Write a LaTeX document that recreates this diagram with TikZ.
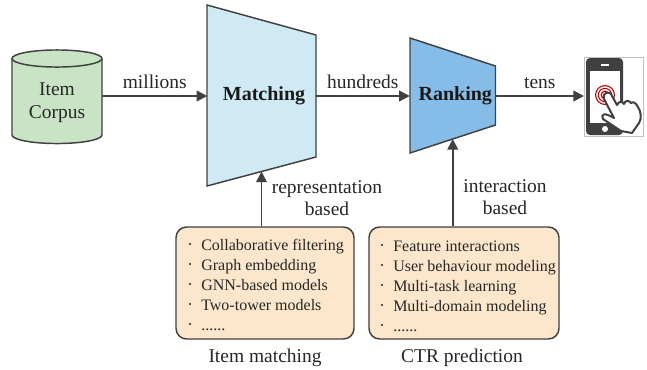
\documentclass[tikz,border=0pt]{standalone}
\usepackage{fontspec}
\setmainfont{Liberation Serif}
\usetikzlibrary{positioning,arrows.meta}
\definecolor{skyface}{HTML}{CFE9F5}
\definecolor{rankface}{HTML}{85BDE8}
\definecolor{corpusface}{HTML}{C9E4C5}
\definecolor{boxface}{HTML}{FCE6CC}
\definecolor{inkgray}{HTML}{404040}
\tikzset{>={Triangle[length=8pt,width=8pt]}}
\tikzset{
  flow/.style = {draw=inkgray, line width=1.4pt, ->},
  flowtext/.style = {font=\fontsize{14.6}{16.8}\selectfont, align=center, inner sep=0pt, text=black!85},
  stagetext/.style = {font=\fontsize{15}{17}\selectfont\bfseries, inner sep=0pt, minimum height=20pt, text=black!90},
  listbox/.style = {draw=inkgray, line width=1.1pt, fill=boxface, rounded corners=8pt, inner sep=0pt},
  listline/.style = {font=\fontsize{12}{14}\selectfont, anchor=base west, inner sep=0pt, text=black!85},
  rim/.style = {x radius=33.75pt, y radius=6.4pt}
}
\newcommand{\moredots}{......}
% name, left x, right x, top left y, top right y, bottom right y, bottom left y, fill
\newcommand{\funnel}[8]{%
  \draw[draw=inkgray, line width=1.1pt, fill=#8] (#2,#4) -- (#3,#5) -- (#3,#6)
    -- coordinate[pos=.5] (#1 low) (#2,#7) -- cycle;%
}
\newcommand{\listrows}[3]{%
  \foreach \entry [count=\n from 0] in {#3} {
    \fill[black!85] (#1-11,#2+\n*20-1) circle (1.1);
    \node[listline] at (#1,#2+\n*20+5) {\entry};
  }%
}
\begin{document}
\begin{tikzpicture}[x=0.75pt, y=-0.75pt]
  \useasboundingbox (0,0) rectangle (647,369);
  % corpus
  \draw[draw=inkgray, line width=1.1pt, fill=corpusface] (12,58.5) -- (12,135)
    arc[start angle=180, end angle=360, rim] -- (102,58.5)
    arc[start angle=0, end angle=180, rim] -- cycle;
  \draw[draw=inkgray, line width=1.1pt] (12,58.5) arc[start angle=180, end angle=360, rim];
  \node[flowtext, font=\fontsize{14.6}{17.2}\selectfont, minimum width=67.5pt] (corpus) at (57,103) {Item\\Corpus};
  % funnels
  \funnel{matching}{207}{316}{5}{35}{157}{186}{skyface}
  \node[stagetext, minimum width=81pt] (matching) at (261.5,96) {\hspace{3.8pt}Matching};
  \funnel{ranking}{410}{495.5}{38}{66}{125}{153}{rankface}
  \node[stagetext, minimum width=64pt] (ranking) at (452.75,96) {\hspace{3.8pt}Ranking};
  % phone
  \coordinate (phone) at (584,96);
  \begin{scope}[shift={(584,57)}]
    \draw[draw=black!25, line width=.5pt, fill=white] (0,0) rectangle (59,79);
    \fill[inkgray, rounded corners=3pt] (2,1) rectangle (39,78);
    \fill[white] (6,14) rectangle (36,66);
    \fill[white] (21,72) circle (3);
    \fill[white] (17,7) rectangle (25,8.5);
    \fill[inkgray] (8,7.7) circle (1);
    \foreach \r/\c in {10/red!75!black, 8.8/white, 7.2/red!75!black, 6/white, 4.4/red!75!black, 3/white}
      \fill[\c] (21,38) circle (\r);
    \draw[inkgray, line width=1.5pt, fill=white, line join=round]
      (22,36) .. controls (25,35) and (27,36) .. (28,39) -- (33,48)
      .. controls (35,44) and (38,44) .. (40,47)
      .. controls (41,43) and (45,43) .. (47,46)
      .. controls (49,44) and (52,46) .. (54,50)
      .. controls (57,55) and (58,61) .. (55,66) -- (48,76) -- (37,74)
      -- (19,62) .. controls (17,58) and (20,56) .. (24,58) -- (30,61) -- (20,42)
      .. controls (19,39) and (20,37) .. (22,36) -- cycle;
  \end{scope}
  % lists
  \node[listbox, minimum width=133.5pt, minimum height=84pt] (item box) at (265,283) {};
  \listrows{201}{245}{Collaborative filtering,Graph embedding,GNN-based models,Two-tower models,\moredots}
  \node[listbox, minimum width=142.5pt, minimum height=84pt] (ctr box) at (464,283) {};
  \listrows{393}{246}{Feature interactions,User behaviour modeling,Multi-task learning,Multi-domain modeling,\moredots}
  \node[flowtext, below=6.5pt of item box] (item name) {Item matching};
  \node[flowtext, below=7pt of ctr box, xshift=-1.5pt] (ctr name) {CTR prediction};
  % arrows
  \draw[flow] (corpus.east |- matching) -- node[flowtext, above=5pt] {millions} (matching.west);
  \draw[flow] (matching.east) -- node[flowtext, above=5pt] {hundreds} (ranking.west);
  \draw[flow] (ranking.east) -- node[flowtext, above=5pt] {tens} (phone);
  \draw[flow] (matching low |- item box.north) -- (matching low);
  \draw[flow] (ranking low |- ctr box.north) -- (ranking low);
  \node[flowtext] (rep label) at (327,198) {representation\\based};
  \node[flowtext] (int label) at (505,197) {interaction\\based};
\end{tikzpicture}
\end{document}
